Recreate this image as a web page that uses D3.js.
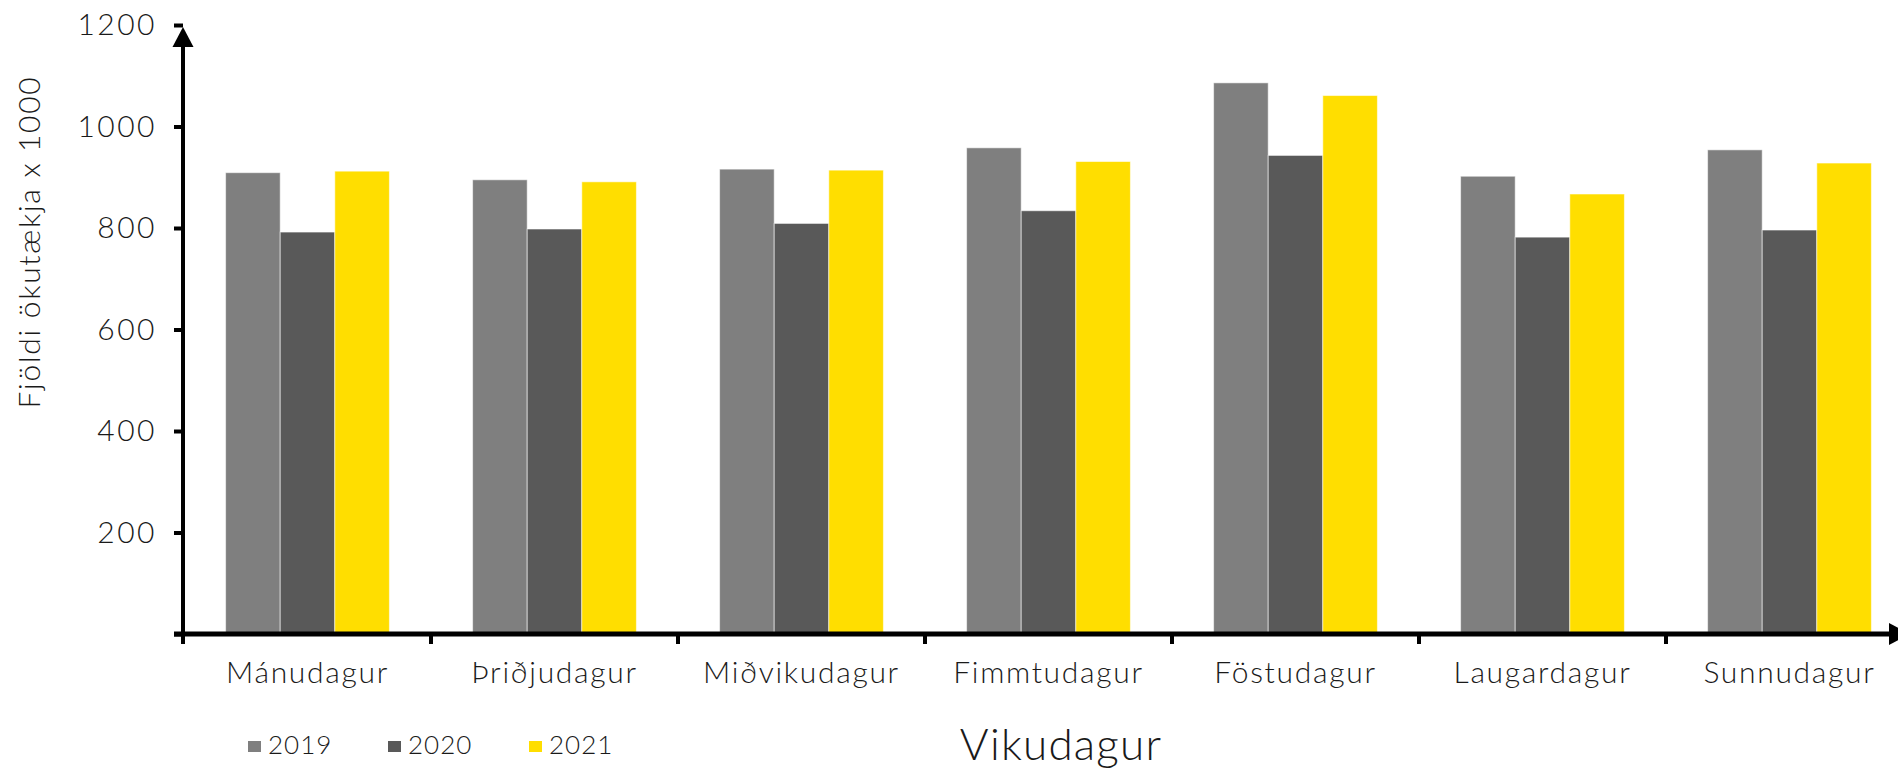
<!DOCTYPE html>
<html>
  <head>
    <meta charset="UTF-8">
    <title>Vikudagur</title>
    <style>
      body { margin: 0; background: #fff; }
      svg text { font-family: Lato, "Open Sans", sans-serif; font-weight: 300; fill: #1a1a1a; }
      .axis .domain { display: none; }
      .axis .tick line { stroke: #000; stroke-width: 4px; }
      .y.axis text { font-size: 30px; letter-spacing: 2.5px; }
      .x.axis text { font-size: 30px; letter-spacing: 1.7px; }
    </style>
    <script src="https://d3js.org/d3.v7.min.js"></script>
  </head>
  <body>
    <div id="chart"></div>
    <script>
      var days = ["Mánudagur", "Þriðjudagur", "Miðvikudagur", "Fimmtudagur", "Föstudagur", "Laugardagur", "Sunnudagur"];
      var years = ["2019", "2020", "2021"];
      var v2019 = [909, 895, 916, 958, 1086, 902, 954];
      var v2020 = [792, 798, 809, 834, 943, 782, 796];
      var v2021 = [912, 891, 914, 931, 1061, 867, 928];
      var yTicks = [0, 200, 400, 600, 800, 1000, 1200];
      var colors = ["#7f7f7f", "#595959", "#ffde00"];

      var series = [v2019, v2020, v2021];
      var width = 1898, height = 768;
      var axisX = 183, axisY = 634;

      var svg = d3.select("#chart").append("svg")
          .attr("width", width)
          .attr("height", height);

      // group scale runs off the right edge, like the original
      var x0 = d3.scaleBand().domain(days).range([184, 184 + 7 * 247]);
      var x1 = d3.scaleBand().domain(years).range([41.6, 247 - 41.6]);
      var y = d3.scaleLinear().domain([0, 1200]).range([axisY, 25]);
      var color = d3.scaleOrdinal().domain(years).range(colors);

      // bars
      var groups = svg.append("g").selectAll("g")
          .data(days)
        .enter().append("g")
          .attr("transform", function(d) { return "translate(" + x0(d) + ",0)"; });

      groups.selectAll("rect")
          .data(function(d, i) { return years.map(function(yr, j) { return {year: yr, value: series[j][i]}; }); })
        .enter().append("rect")
          .attr("x", function(d) { return x1(d.year); })
          .attr("width", x1.bandwidth())
          .attr("y", function(d) { return y(d.value); })
          .attr("height", function(d) { return axisY - y(d.value); })
          .attr("fill", function(d) { return color(d.year); })
          .attr("stroke", "rgba(255,255,255,0.55)")
          .attr("stroke-width", 1);

      // y axis
      var yAxis = d3.axisLeft(y).tickValues(yTicks).tickSize(9).tickPadding(17)
          .tickFormat(function(d) { return d === 0 ? "" : d; });
      svg.append("g")
          .attr("class", "y axis")
          .attr("transform", "translate(" + axisX + ",0)")
          .call(yAxis);

      svg.append("line")
          .attr("x1", axisX).attr("x2", axisX)
          .attr("y1", axisY + 10).attr("y2", y(1200) + 14)
          .attr("stroke", "#000").attr("stroke-width", 4);
      svg.append("path")
          .attr("d", "M" + (axisX - 10.5) + "," + (y(1200) + 22) + "L" + axisX + "," + (y(1200) + 2) +
                "L" + (axisX + 10.5) + "," + (y(1200) + 22) + "Z")
          .attr("fill", "#000");

      // x axis
      var xAxis = d3.axisBottom(x0).tickSize(0).tickPadding(28);
      svg.append("g")
          .attr("class", "x axis")
          .attr("transform", "translate(0," + axisY + ")")
          .call(xAxis);

      svg.append("line")
          .attr("x1", axisX - 9).attr("x2", 1890)
          .attr("y1", axisY).attr("y2", axisY)
          .attr("stroke", "#000").attr("stroke-width", 5);
      svg.append("path")
          .attr("d", "M1889," + (axisY - 11) + "L1910," + axisY + "L1889," + (axisY + 11) + "Z")
          .attr("fill", "#000");

      svg.append("g").selectAll("line")
          .data(days.slice(1))
        .enter().append("line")
          .attr("x1", function(d) { return x0(d); })
          .attr("x2", function(d) { return x0(d); })
          .attr("y1", axisY)
          .attr("y2", axisY + 10)
          .attr("stroke", "#000")
          .attr("stroke-width", 4);

      // axis titles
      svg.append("text")
          .attr("x", 1061)
          .attr("y", 760)
          .attr("text-anchor", "middle")
          .style("font-size", "44px")
          .style("letter-spacing", "1.2px")
          .text("Vikudagur");

      svg.append("text")
          .attr("transform", "translate(40,242) rotate(-90)")
          .attr("text-anchor", "middle")
          .style("font-size", "30px")
          .style("letter-spacing", "1.7px")
          .text("Fjöldi ökutækja x 1000");

      // legend
      var legendX = [248, 388, 529];
      var legend = svg.append("g").selectAll("g")
          .data(years)
        .enter().append("g")
          .attr("transform", function(d, i) { return "translate(" + legendX[i] + ",741)"; });
      legend.append("rect")
          .attr("width", 13).attr("height", 11)
          .attr("fill", function(d) { return color(d); });
      legend.append("text")
          .attr("x", 20).attr("y", 13)
          .style("font-size", "26px")
          .style("letter-spacing", "1px")
          .text(function(d) { return d; });
    </script>
  </body>
</html>
